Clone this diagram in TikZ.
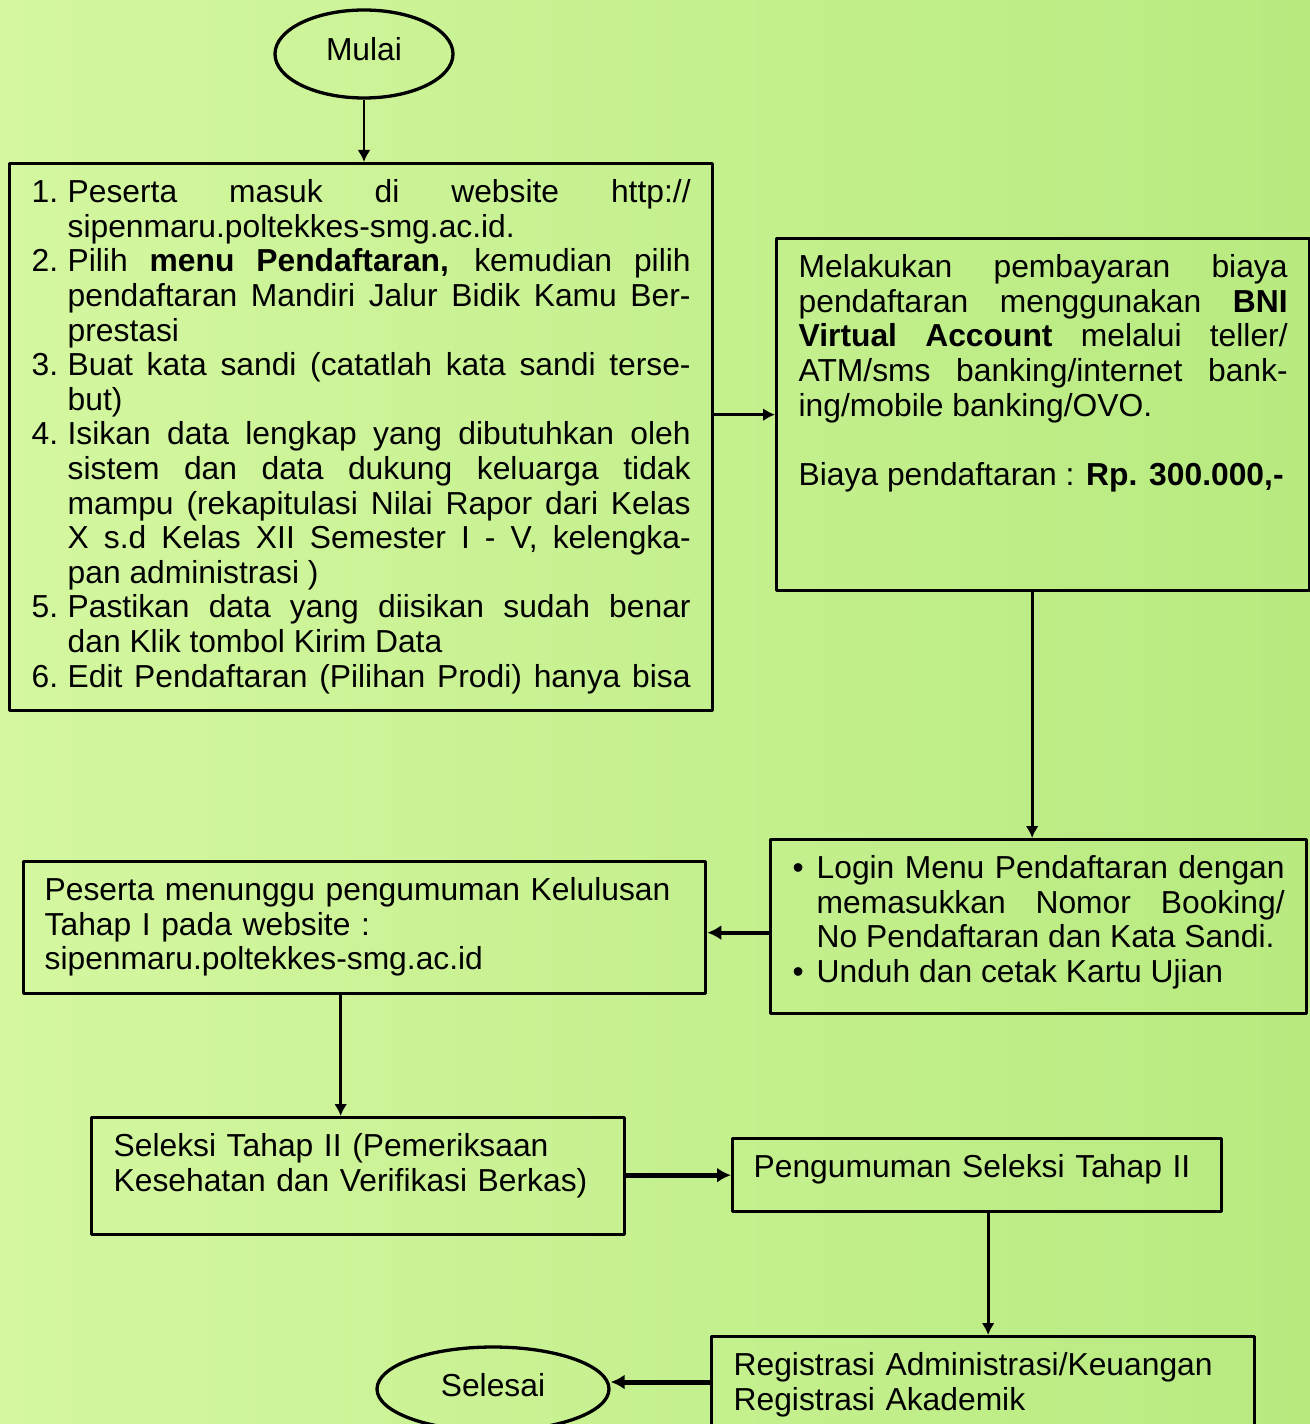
\documentclass[tikz,border=0pt]{standalone}
\usepackage{fontspec}
\setmainfont{Liberation Sans}
\usetikzlibrary{arrows.meta,shapes.geometric,positioning}
\definecolor{hijaukiri}{HTML}{D4F7A0}
\definecolor{hijaukanan}{HTML}{B8EA80}
\tolerance=10000
\hbadness=10000
\newcommand{\huruf}{\fontsize{31.8bp}{34.6bp}\selectfont}
\newcommand{\butir}[2][36bp]{\noindent\hangindent=#1\hangafter=1\makebox[#1][l]{#2}}
\tikzset{
  kotak/.style={draw=black,line width=3.3bp,anchor=north west,inner xsep=22bp,inner ysep=16bp,text height=23bp,font=\huruf},
  oval/.style={ellipse,draw=black,line width=3.3bp,inner sep=0pt,text height=23bp,text depth=9bp,font=\huruf},
  panah/.style={->,line width=2.8bp},
  panahtebal/.style={-{Latex[length=14bp,width=15bp]},line width=5bp}
}
\begin{document}
\begin{tikzpicture}[x=1bp,y=-1bp,>={Latex[length=12bp,width=13bp]},line join=bevel]
\useasboundingbox (0,0) rectangle (1310,1424);
\clip (0,0) rectangle (1310,1424);
\shade[left color=hijaukiri,right color=hijaukanan] (0,0) rectangle (1310,1424);
%%
\node (mulai) [oval,minimum width=178bp,minimum height=88bp] at (364,54) {Mulai};
\node (langkah) [kotak,text width=659bp,text depth=492bp,align=justify] at (8,162) {\butir{1.}Peserta masuk di website http://\linebreak sipenmaru.poltekkes-smg.ac.id.

  \butir{2.}Pilih \textbf{menu Pendaftaran,} kemudian pilih\linebreak pendaftaran Mandiri Jalur Bidik Kamu Ber-\linebreak prestasi

  \butir{3.}Buat kata sandi (catatlah kata sandi terse-\linebreak but)

  \butir{4.}Isikan data lengkap yang dibutuhkan oleh\linebreak sistem dan data dukung keluarga tidak\linebreak mampu (rekapitulasi Nilai Rapor dari Kelas\linebreak X s.d Kelas XII Semester I - V, kelengka-\linebreak pan administrasi )

  \butir{5.}Pastikan data yang diisikan sudah benar\linebreak dan Klik tombol Kirim Data

  \butir{6.}Edit Pendaftaran (Pilihan Prodi) hanya bisa\parfillskip=0pt\par};
\node (bayar) [kotak,text width=489bp,text depth=297bp,align=justify] at (775,237) {Melakukan pembayaran biaya\linebreak pendaftaran menggunakan \textbf{BNI}\linebreak \textbf{Virtual Account} melalui teller/\linebreak ATM/sms banking/internet bank-\linebreak ing/mobile banking/OVO.\par\mbox{}\par
  Biaya pendaftaran : \textbf{Rp. 300.000,-}};
\node (login) [kotak,text width=492bp,text depth=119bp,align=justify] at (769,838) {\butir[24bp]{\textbullet}Login Menu Pendaftaran dengan\linebreak memasukkan Nomor Booking/\linebreak No Pendaftaran dan Kata Sandi.

  \butir[24bp]{\textbullet}Unduh dan cetak Kartu Ujian};
\node (tunggu) [kotak,text width=640bp,text depth=77bp,align=left,inner xsep=21bp] at (22,860) {Peserta menunggu pengumuman Kelulusan\\ Tahap I pada website :\\ sipenmaru.poltekkes-smg.ac.id};
\node (seleksi) [kotak,text width=489bp,text depth=62bp,align=left] at (90,1116) {Seleksi Tahap II (Pemeriksaan\\ Kesehatan dan Verifikasi Berkas)};
\node (pengumuman) [kotak,text width=447bp,text depth=18bp,align=left,inner xsep=21bp] at (731,1137) {Pengumuman Seleksi Tahap II};
\node (registrasi) [kotak,text width=499bp,text depth=70bp,align=left] at (710,1335) {Registrasi Administrasi/Keuangan\\ Registrasi Akademik};
\node (selesai) [oval,minimum width=232bp,minimum height=84bp] at (493,1389) {Selesai};
%
\coordinate (k1) at ([xshift=-11bp]bayar.south);
\coordinate (k2) at ([yshift=-6bp]login.west);
\coordinate (k3) at ([xshift=-24bp]tunggu.south);
\coordinate (k4) at ([xshift=11bp]pengumuman.south);
\coordinate (k5) at ([yshift=7bp]selesai.east);
\draw [panah] (mulai.south) -- (mulai.south |- langkah.north);
\draw [panah,line width=3bp] (langkah.east |- bayar.west) -- (bayar.west);
\draw [panah] (k1) -- (k1 |- login.north);
\draw [panahtebal,line width=4bp] (k2) -- (k2 -| tunggu.east);
\draw [panah] (k3) -- (k3 |- seleksi.north);
\draw [panahtebal] (seleksi.east |- pengumuman.west) -- (pengumuman.west);
\draw [panah] (k4) -- (k4 |- registrasi.north);
\draw [panahtebal] (k5 -| registrasi.west) -- (k5);
%
\end{tikzpicture}
\end{document}
